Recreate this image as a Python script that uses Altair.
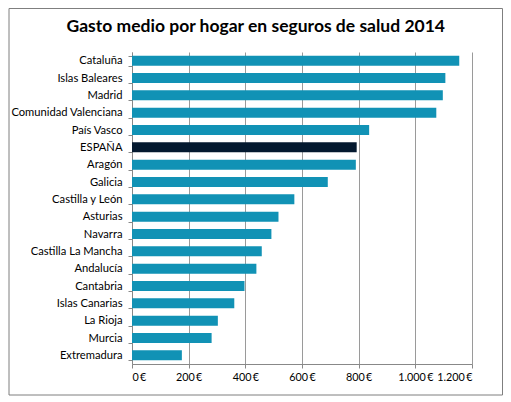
import altair as alt
import pandas as pd

regions = [
    "Cataluña", "Islas Baleares", "Madrid", "Comunidad Valenciana", "País Vasco",
    "ESPAÑA", "Aragón", "Galicia", "Castilla y León", "Asturias", "Navarra",
    "Castilla La Mancha", "Andalucía", "Cantabria", "Islas Canarias", "La Rioja",
    "Murcia", "Extremadura",
]
gasto = [1155, 1106, 1097, 1074, 837, 793, 790, 691, 573, 517, 492,
         458, 439, 397, 361, 303, 281, 176]
tipo = ["total" if r == "ESPAÑA" else "region" for r in regions]

source = pd.DataFrame({"region": regions, "gasto": gasto, "tipo": tipo})

font = "Lato"

bars = (
    alt.Chart(source)
    .mark_bar(size=10)
    .encode(
        alt.X(
            "gasto:Q",
            scale=alt.Scale(domain=[0, 1200], nice=False),
            title=None,
            axis=alt.Axis(
                values=[0, 200, 400, 600, 800, 1000, 1200],
                labelExpr="replace(format(datum.value, ','), ',', '.') + '\u2009€'",
                labelOverlap=False,
                labelFontSize=10.8,
                gridColor="#9a9a9a",
                domainColor="#888888",
                tickColor="#888888",
                tickSize=4,
                labelPadding=3,
            ),
        ),
        alt.Y(
            "region:N",
            sort=regions,
            title=None,
            scale=alt.Scale(paddingInner=0.42, paddingOuter=0.21),
            axis=alt.Axis(
                tickBand="extent",
                grid=False,
                domainColor="#888888",
                tickColor="#888888",
                tickSize=4,
                labelPadding=6,
            ),
        ),
        color=alt.Color(
            "tipo:N",
            scale=alt.Scale(domain=["region", "total"], range=["#1192b5", "#04192f"]),
            legend=None,
        ),
    )
)

# outer frame around the whole figure
frame = (
    alt.Chart(alt.Data(values=[{}]))
    .mark_rect(fill=None, stroke="#7f7f7f", strokeWidth=1)
    .encode(
        x=alt.value(-123),
        x2=alt.value(370.5),
        y=alt.value(-43.5),
        y2=alt.value(343),
    )
)

chart = (
    alt.layer(bars, frame)
    .properties(
        width=340,
        height=312,
        padding=0,
        title=alt.TitleParams(
            "Gasto medio por hogar en seguros de salud 2014",
            fontSize=17.5,
            font=font,
            fontWeight="bold",
            color="#000000",
            anchor="middle",
            frame="bounds",
            offset=-27,
        ),
    )
    .configure_view(stroke=None)
    .configure_axis(labelFont=font, labelFontSize=11.2, labelColor="#000000")
)

chart.save("out.html", embed_options={"renderer": "svg", "actions": False})
